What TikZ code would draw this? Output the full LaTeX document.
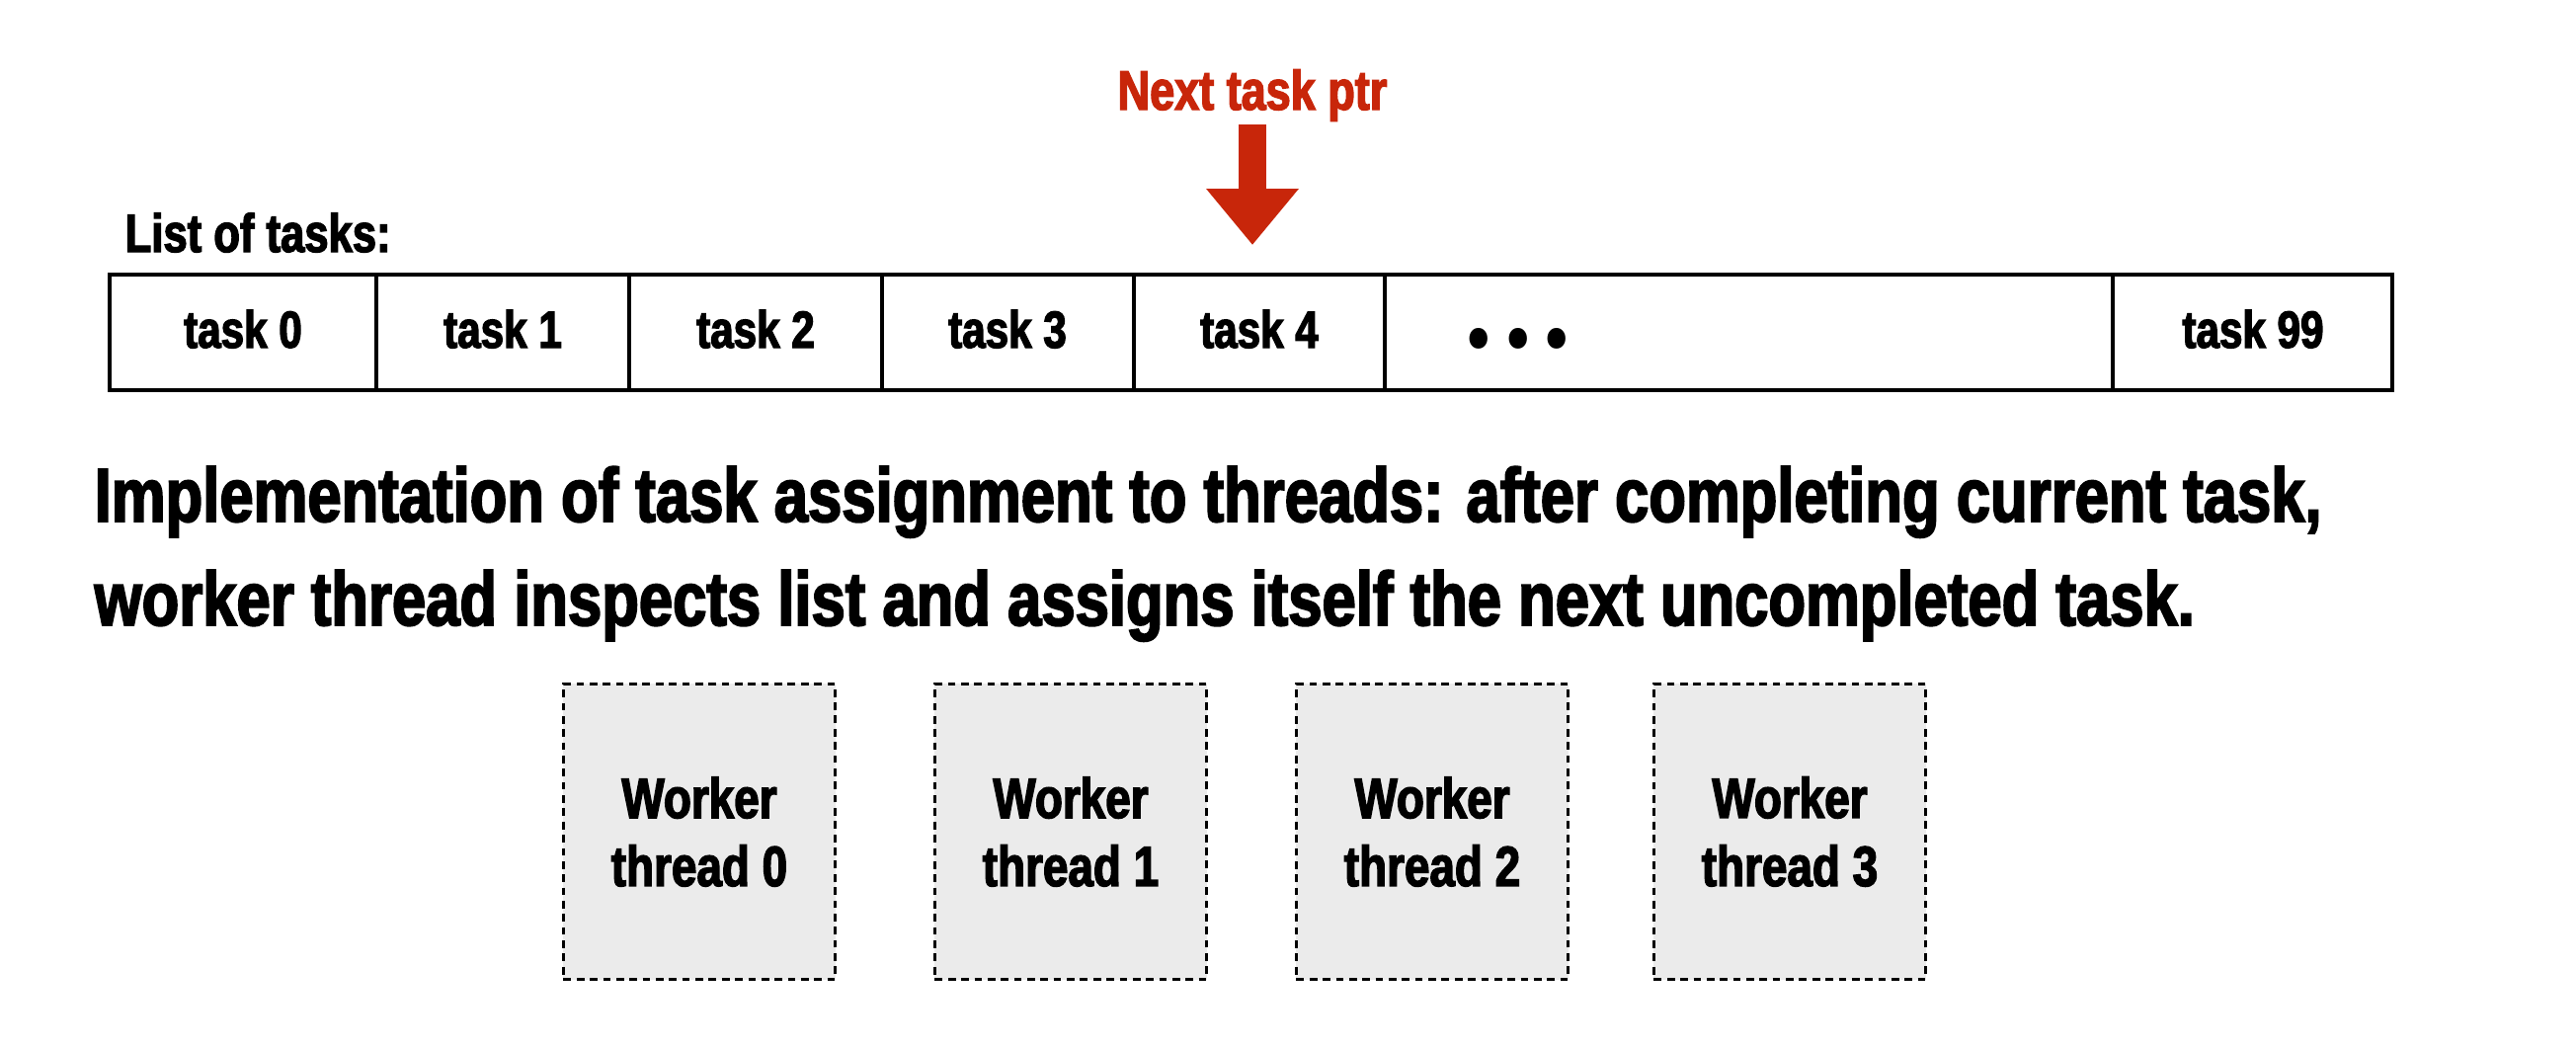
\documentclass[tikz,border=0pt]{standalone}
\usepackage{fontspec}
\setmainfont{Liberation Sans}[FakeStretch=0.8, FakeBold=2.5]
\newfontfamily\dotfont{Poppins}[FakeStretch=0.8]
\usepackage{tikz}
\usetikzlibrary{arrows.meta}
\definecolor{ptrred}{RGB}{200,38,10}
\definecolor{workergray}{RGB}{235,235,235}

\begin{document}
\begin{tikzpicture}[x=0.01cm, y=-0.01cm,
    tasklabel/.style={inner sep=0, anchor=base, font=\bfseries\fontsize{15}{18}\selectfont},
    desc/.style={inner sep=0, anchor=base west, font=\bfseries\fontsize{21.9}{26}\selectfont},
    workerbox/.style={draw, line width=0.9pt, dash pattern=on 2.2pt off 1.6pt, fill=workergray,
        minimum width=2.75cm, minimum height=2.99cm, align=center, inner sep=0,
        font=\bfseries\fontsize{16.3}{19.6}\selectfont}]
        \useasboundingbox (0,0) rectangle (2608,1060);

        \node[ptrred, inner sep=0, anchor=base, font=\bfseries\fontsize{16}{19}\selectfont] (ptr) at (1268,111) {Next task ptr};
        \coordinate (ptrtail) at (1268,126);
        \coordinate (ptrtip) at (1268,248);
        \draw[ptrred, line width=7.97pt, -{Triangle[width=25.6pt, length=16.2pt]}] (ptrtail) -- (ptrtip);

        \node[inner sep=0, anchor=base west, font=\bfseries\fontsize{15.5}{18}\selectfont] (listlabel) at (126,255) {List of tasks:};

        \draw[line width=1.2pt] (111,278) rectangle (2422,395);
        \draw[line width=1pt] (381,278) -- (381,395);
        \draw[line width=1pt] (637,278) -- (637,395);
        \draw[line width=1pt] (893,278) -- (893,395);
        \draw[line width=1pt] (1148,278) -- (1148,395);
        \draw[line width=1pt] (1402,278) -- (1402,395);
        \draw[line width=1pt] (2139,278) -- (2139,395);
        \node[tasklabel] (t0) at (246,352) {task 0};
        \node[tasklabel] (t1) at (509,352) {task 1};
        \node[tasklabel] (t2) at (765,352) {task 2};
        \node[tasklabel] (t3) at (1020,352) {task 3};
        \node[tasklabel] (t4) at (1275,352) {task 4};
        \node[tasklabel, font=\dotfont\bfseries\fontsize{32}{32}\selectfont] (tdots) at (1537,352) {.\kern4pt.\kern4pt.};
        \node[tasklabel] (t99) at (2281,352) {task 99};

        \node[desc] (desc1) at (95,528) {Implementation of task assignment to threads: after completing current task,};
        \node[desc] (desc2) at (95,633) {worker thread inspects list and assigns itself the next uncompleted task.};

        \node[workerbox] (w0) at (708,842) {Worker\\thread 0};
        \node[workerbox] (w1) at (1084,842) {Worker\\thread 1};
        \node[workerbox] (w2) at (1450,842) {Worker\\thread 2};
        \node[workerbox] (w3) at (1812,842) {Worker\\thread 3};
    \end{tikzpicture}
\end{document}
